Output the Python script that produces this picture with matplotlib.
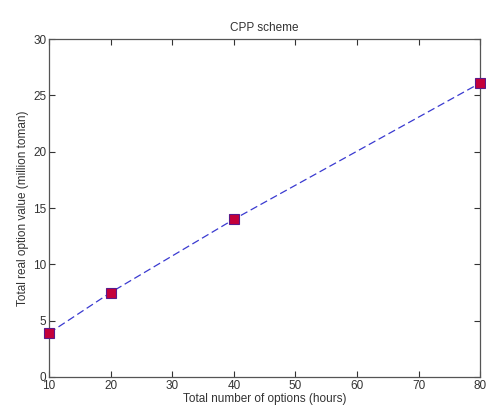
import matplotlib
matplotlib.use("Agg")
import matplotlib.pyplot as plt

# data
hours = [10, 20, 40, 80]
value = [3.9, 7.5, 14.0, 26.1]
xticks = [10, 20, 30, 40, 50, 60, 70, 80]
yticks = [0, 5, 10, 15, 20, 25, 30]

plt.rcParams['font.family'] = ['Liberation Sans', 'DejaVu Sans']

fig = plt.figure(figsize=(4.86, 4.12), dpi=100)
ax = fig.add_axes([0.101, 0.085, 0.887, 0.82])

ax.plot(hours, value, color='#3a3ad0', linestyle='--', linewidth=0.9,
        dashes=(6, 3), marker='s', markersize=6.5,
        markerfacecolor='#c4003a', markeredgecolor='#5a1a8a', markeredgewidth=0.8,
        clip_on=False, zorder=5)

ax.set_xlim(10, 80)
ax.set_ylim(0, 30)
ax.set_xticks(xticks)
ax.set_yticks(yticks)

ax.tick_params(direction='in', length=4, width=0.8, top=True, right=True,
               labelsize=8.5, colors='#333333', pad=2)
for s in ax.spines.values():
    s.set_color('#555555')
    s.set_linewidth(0.9)

ax.set_title('CPP scheme', fontsize=8.5, color='#333333', pad=6)
ax.set_xlabel('Total number of options (hours)', fontsize=8.5, color='#333333', labelpad=1)
ax.set_ylabel('Total real option value (million toman)', fontsize=8.5, color='#333333', labelpad=3)

fig.savefig('out.png', dpi=100)
